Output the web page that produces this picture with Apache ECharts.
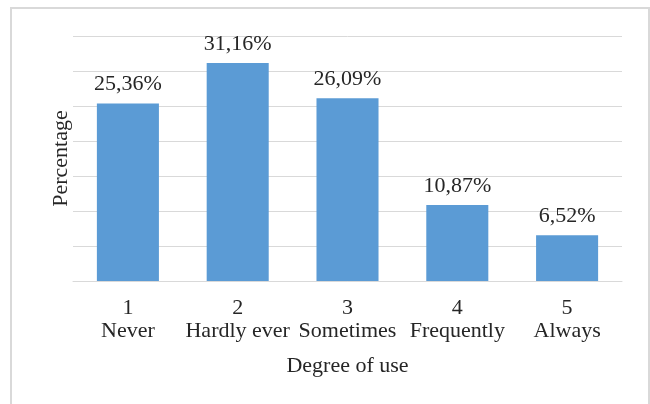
<!DOCTYPE html>
<html>
<head>
<meta charset="utf-8">
<script src="https://cdn.jsdelivr.net/npm/echarts@6/dist/echarts.min.js"></script>
<style>
  html, body { margin: 0; padding: 0; background: #ffffff; }
  #chart { width: 650px; height: 404px; }
</style>
</head>
<body>
<div id="chart"></div>
<script>
// Survey responses: how often the tool is used
const levels = ['1', '2', '3', '4', '5'];
const levelNames = ['Never', 'Hardly ever', 'Sometimes', 'Frequently', 'Always'];
const percentages = [25.36, 31.16, 26.09, 10.87, 6.52];
const yMax = 35;
const yStep = 5;

const serif = '"Liberation Serif", "DejaVu Serif", serif';
const textColor = '#262626';
const lineColor = '#d9d9d9';
const fontSize = 22;

const categories = levels.map((n, i) => n + '\n' + levelNames[i]);

const chart = echarts.init(document.getElementById('chart'), null, { renderer: 'canvas' });

chart.setOption({
  backgroundColor: '#ffffff',
  animation: false,
  graphic: [{
    type: 'rect',
    shape: { x: 11, y: 8, width: 638, height: 420 },
    style: { fill: 'none', stroke: lineColor, lineWidth: 2 },
    silent: true
  }],
  grid: { left: 73, right: 28, top: 36, bottom: 123 },
  xAxis: {
    type: 'category',
    data: categories,
    name: 'Degree of use',
    nameLocation: 'middle',
    nameGap: 74,
    nameTextStyle: { fontFamily: serif, fontSize: fontSize, color: textColor },
    axisLine: { lineStyle: { color: lineColor, width: 1 } },
    axisTick: { show: false },
    axisLabel: {
      fontFamily: serif, fontSize: fontSize, color: textColor,
      lineHeight: 23, margin: 16, interval: 0
    }
  },
  yAxis: {
    type: 'value',
    min: 0,
    max: yMax,
    interval: yStep,
    name: 'Percentage',
    nameLocation: 'middle',
    nameGap: 1,
    nameTextStyle: { fontFamily: serif, fontSize: fontSize, color: textColor },
    axisLine: { show: false },
    axisTick: { show: false },
    axisLabel: { show: false },
    splitLine: { lineStyle: { color: lineColor, width: 1 } }
  },
  series: [{
    type: 'bar',
    data: percentages,
    barWidth: '56.5%',
    itemStyle: { color: '#5b9bd5' },
    label: {
      show: true,
      position: 'top',
      distance: 8,
      fontFamily: serif,
      fontSize: fontSize,
      color: textColor,
      formatter: p => p.value.toFixed(2).replace('.', ',') + '%'
    }
  }]
});
</script>
</body>
</html>
